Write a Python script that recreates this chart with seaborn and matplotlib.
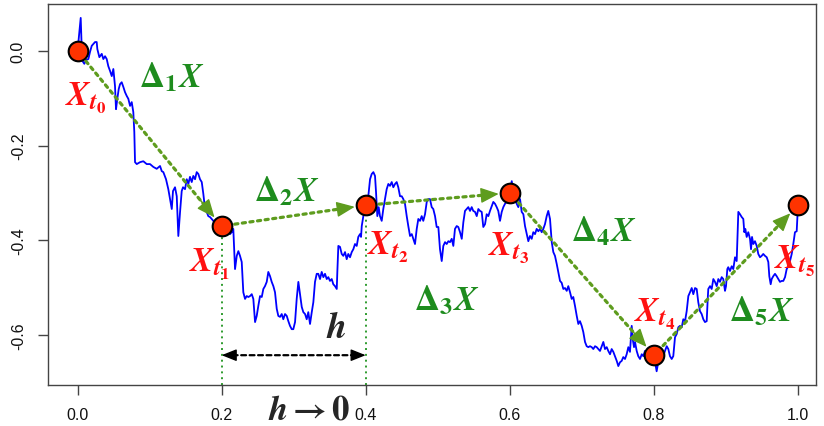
import numpy as np
import pandas as pd
import matplotlib
matplotlib.use("Agg")
import matplotlib.pyplot as plt
import seaborn as sns

# ---- data ----
# blue sample path: time and value
path_t = [0.0, 0.0044, 0.0056, 0.0076, 0.0094, 0.0118, 0.0150, 0.0173, 0.0197, 0.0219,
          0.0243, 0.0266, 0.0275, 0.0303, 0.0336, 0.0358, 0.0382, 0.0405, 0.0427, 0.0451,
          0.0475, 0.0497, 0.0520, 0.0534, 0.0552, 0.0572, 0.0590, 0.0613, 0.0636, 0.0659,
          0.0683, 0.0705, 0.0729, 0.0752, 0.0774, 0.0788, 0.0798, 0.0822, 0.0867, 0.0913,
          0.0960, 0.1006, 0.1052, 0.1099, 0.1145, 0.1169, 0.1191, 0.1228, 0.1260, 0.1284,
          0.1308, 0.1325, 0.1353, 0.1377, 0.1399, 0.1423, 0.1446, 0.1464, 0.1492, 0.1516,
          0.1538, 0.1561, 0.1585, 0.1607, 0.1631, 0.1654, 0.1677, 0.1700, 0.1724, 0.1746,
          0.1770, 0.1793, 0.1815, 0.1839, 0.1863, 0.1885, 0.1932, 0.2000, 0.2093, 0.2117,
          0.2140, 0.2162, 0.2186, 0.2210, 0.2232, 0.2255, 0.2279, 0.2301, 0.2325, 0.2348,
          0.2371, 0.2394, 0.2418, 0.2440, 0.2464, 0.2487, 0.2509, 0.2533, 0.2557, 0.2579,
          0.2602, 0.2626, 0.2648, 0.2672, 0.2695, 0.2718, 0.2741, 0.2765, 0.2787, 0.2811,
          0.2834, 0.2856, 0.2880, 0.2904, 0.2926, 0.2949, 0.2973, 0.2995, 0.3019, 0.3042,
          0.3065, 0.3088, 0.3112, 0.3134, 0.3158, 0.3181, 0.3203, 0.3227, 0.3251, 0.3273,
          0.3296, 0.3320, 0.3342, 0.3366, 0.3389, 0.3412, 0.3435, 0.3459, 0.3481, 0.3504,
          0.3528, 0.3550, 0.3574, 0.3598, 0.3606, 0.3620, 0.3643, 0.3667, 0.3689, 0.3713,
          0.3736, 0.3758, 0.3782, 0.3806, 0.3828, 0.3851, 0.3875, 0.3897, 0.3921, 0.3935,
          0.3945, 0.3967, 0.3990, 0.4000, 0.4036, 0.4060, 0.4083, 0.4106, 0.4129, 0.4143,
          0.4161, 0.4180, 0.4198, 0.4222, 0.4244, 0.4268, 0.4291, 0.4314, 0.4337, 0.4361,
          0.4383, 0.4407, 0.4430, 0.4452, 0.4476, 0.4500, 0.4522, 0.4545, 0.4569, 0.4591,
          0.4615, 0.4639, 0.4661, 0.4684, 0.4708, 0.4730, 0.4754, 0.4777, 0.4799, 0.4823,
          0.4847, 0.4869, 0.4892, 0.4916, 0.4938, 0.4962, 0.4985, 0.5008, 0.5031, 0.5055,
          0.5077, 0.5101, 0.5124, 0.5147, 0.5170, 0.5194, 0.5216, 0.5239, 0.5263, 0.5285,
          0.5309, 0.5333, 0.5355, 0.5378, 0.5402, 0.5424, 0.5448, 0.5471, 0.5493, 0.5517,
          0.5541, 0.5563, 0.5586, 0.5610, 0.5632, 0.5656, 0.5679, 0.5702, 0.5725, 0.5749,
          0.5771, 0.5795, 0.5818, 0.5840, 0.5864, 0.5888, 0.5910, 0.5933, 0.5957, 0.5979,
          0.6000, 0.6027, 0.6049, 0.6072, 0.6096, 0.6118, 0.6142, 0.6165, 0.6188, 0.6211,
          0.6235, 0.6257, 0.6280, 0.6304, 0.6326, 0.6350, 0.6373, 0.6396, 0.6419, 0.6443,
          0.6465, 0.6488, 0.6512, 0.6534, 0.6558, 0.6582, 0.6604, 0.6627, 0.6651, 0.6673,
          0.6697, 0.6720, 0.6743, 0.6766, 0.6790, 0.6812, 0.6836, 0.6859, 0.6881, 0.6905,
          0.6929, 0.6951, 0.6974, 0.6998, 0.7020, 0.7044, 0.7067, 0.7090, 0.7113, 0.7137,
          0.7159, 0.7183, 0.7206, 0.7228, 0.7252, 0.7276, 0.7298, 0.7321, 0.7345, 0.7367,
          0.7391, 0.7414, 0.7437, 0.7460, 0.7484, 0.7506, 0.7529, 0.7553, 0.7575, 0.7599,
          0.7622, 0.7645, 0.7668, 0.7692, 0.7706, 0.7724, 0.7738, 0.7761, 0.7783, 0.7807,
          0.7831, 0.7853, 0.7876, 0.7900, 0.7922, 0.7946, 0.7969, 0.8000, 0.8038, 0.8060,
          0.8084, 0.8108, 0.8130, 0.8154, 0.8178, 0.8200, 0.8223, 0.8247, 0.8269, 0.8293,
          0.8317, 0.8339, 0.8362, 0.8386, 0.8408, 0.8432, 0.8455, 0.8478, 0.8501, 0.8525,
          0.8547, 0.8571, 0.8594, 0.8616, 0.8640, 0.8663, 0.8686, 0.8709, 0.8733, 0.8747,
          0.8755, 0.8779, 0.8802, 0.8825, 0.8848, 0.8872, 0.8894, 0.8917, 0.8941, 0.8963,
          0.8987, 0.9001, 0.9019, 0.9032, 0.9056, 0.9080, 0.9102, 0.9126, 0.9149, 0.9172,
          0.9195, 0.9219, 0.9241, 0.9255, 0.9269, 0.9288, 0.9310, 0.9334, 0.9348, 0.9362,
          0.9380, 0.9403, 0.9427, 0.9449, 0.9473, 0.9496, 0.9518, 0.9542, 0.9566, 0.9588,
          0.9602, 0.9621, 0.9635, 0.9657, 0.9681, 0.9704, 0.9727, 0.9750, 0.9774, 0.9796,
          0.9820, 0.9843, 0.9865, 0.9889, 0.9913, 0.9935, 0.9958, 0.9982, 0.9990, 1.0]
path_x = [0.000, 0.070, 0.015, -0.023, -0.027, -0.019, -0.017, -0.002, 0.011, 0.015,
          0.019, 0.019, 0.004, -0.013, -0.006, -0.017, -0.011, -0.017, -0.032, -0.042,
          -0.053, -0.038, -0.074, -0.123, -0.101, -0.080, -0.070, -0.066, -0.076, -0.087,
          -0.095, -0.101, -0.116, -0.108, -0.129, -0.171, -0.235, -0.239, -0.235, -0.233,
          -0.239, -0.239, -0.245, -0.249, -0.243, -0.254, -0.256, -0.271, -0.292, -0.313,
          -0.334, -0.296, -0.288, -0.307, -0.391, -0.340, -0.296, -0.288, -0.292, -0.271,
          -0.281, -0.266, -0.277, -0.264, -0.271, -0.256, -0.260, -0.271, -0.277, -0.302,
          -0.334, -0.340, -0.349, -0.351, -0.355, -0.359, -0.370, -0.370, -0.372, -0.387,
          -0.383, -0.376, -0.461, -0.433, -0.423, -0.433, -0.446, -0.510, -0.524, -0.518,
          -0.520, -0.518, -0.514, -0.524, -0.573, -0.560, -0.539, -0.518, -0.520, -0.503,
          -0.497, -0.488, -0.467, -0.476, -0.488, -0.497, -0.510, -0.545, -0.560, -0.562,
          -0.556, -0.567, -0.556, -0.560, -0.571, -0.581, -0.588, -0.588, -0.573, -0.524,
          -0.488, -0.514, -0.541, -0.552, -0.556, -0.567, -0.552, -0.577, -0.552, -0.531,
          -0.488, -0.471, -0.471, -0.482, -0.467, -0.478, -0.471, -0.482, -0.478, -0.486,
          -0.482, -0.493, -0.497, -0.503, -0.467, -0.412, -0.414, -0.429, -0.433, -0.425,
          -0.440, -0.429, -0.436, -0.425, -0.419, -0.408, -0.412, -0.393, -0.387, -0.393,
          -0.370, -0.349, -0.340, -0.326, -0.307, -0.271, -0.260, -0.256, -0.264, -0.298,
          -0.349, -0.330, -0.349, -0.359, -0.334, -0.313, -0.292, -0.281, -0.285, -0.277,
          -0.288, -0.281, -0.277, -0.288, -0.307, -0.307, -0.313, -0.323, -0.349, -0.370,
          -0.391, -0.387, -0.397, -0.408, -0.376, -0.355, -0.359, -0.349, -0.359, -0.345,
          -0.319, -0.313, -0.313, -0.330, -0.334, -0.349, -0.372, -0.372, -0.419, -0.444,
          -0.412, -0.404, -0.408, -0.402, -0.404, -0.397, -0.412, -0.376, -0.370, -0.372,
          -0.383, -0.397, -0.362, -0.338, -0.334, -0.330, -0.338, -0.330, -0.338, -0.340,
          -0.349, -0.334, -0.338, -0.340, -0.372, -0.366, -0.345, -0.349, -0.338, -0.328,
          -0.319, -0.323, -0.330, -0.338, -0.359, -0.340, -0.330, -0.323, -0.319, -0.313,
          -0.300, -0.275, -0.298, -0.313, -0.323, -0.330, -0.313, -0.340, -0.345, -0.370,
          -0.387, -0.402, -0.391, -0.397, -0.383, -0.387, -0.376, -0.381, -0.376, -0.383,
          -0.376, -0.366, -0.349, -0.338, -0.355, -0.404, -0.425, -0.433, -0.450, -0.467,
          -0.486, -0.490, -0.503, -0.501, -0.507, -0.497, -0.510, -0.524, -0.520, -0.539,
          -0.560, -0.577, -0.571, -0.581, -0.594, -0.615, -0.624, -0.626, -0.624, -0.626,
          -0.630, -0.624, -0.626, -0.630, -0.634, -0.624, -0.615, -0.630, -0.626, -0.634,
          -0.641, -0.630, -0.636, -0.645, -0.655, -0.666, -0.658, -0.655, -0.647, -0.651,
          -0.641, -0.626, -0.636, -0.581, -0.609, -0.626, -0.615, -0.634, -0.645, -0.651,
          -0.641, -0.645, -0.634, -0.641, -0.645, -0.636, -0.645, -0.643, -0.677, -0.658,
          -0.647, -0.636, -0.645, -0.634, -0.624, -0.630, -0.645, -0.651, -0.645, -0.605,
          -0.598, -0.584, -0.581, -0.584, -0.567, -0.571, -0.550, -0.518, -0.510, -0.501,
          -0.514, -0.501, -0.503, -0.531, -0.550, -0.556, -0.567, -0.573, -0.571, -0.524,
          -0.503, -0.497, -0.503, -0.482, -0.488, -0.497, -0.482, -0.488, -0.478, -0.482,
          -0.507, -0.497, -0.461, -0.457, -0.465, -0.455, -0.461, -0.436, -0.444, -0.340,
          -0.345, -0.351, -0.355, -0.383, -0.376, -0.393, -0.383, -0.397, -0.419, -0.393,
          -0.408, -0.402, -0.412, -0.429, -0.436, -0.433, -0.429, -0.433, -0.436, -0.446,
          -0.476, -0.493, -0.482, -0.476, -0.471, -0.476, -0.482, -0.488, -0.486, -0.486,
          -0.478, -0.461, -0.455, -0.444, -0.429, -0.408, -0.383, -0.381, -0.355, -0.326]

# sampled points X_{t_i}
obs_t = [0.0, 0.2, 0.4, 0.6, 0.8, 1.0]
obs_x = [0.0, -0.370, -0.326, -0.300, -0.643, -0.326]

# label anchor positions (data units)
xlab_pos = [(0.012, -0.096), (0.183, -0.449), (0.431, -0.414),
            (0.598, -0.414), (0.801, -0.554), (0.996, -0.442)]
dlab_pos = [(0.131, -0.053), (0.290, -0.294), (0.513, -0.526),
            (0.731, -0.378), (0.950, -0.548)]

df = pd.DataFrame({"t": path_t, "x": path_x})
pts = pd.DataFrame({"t": obs_t, "x": obs_x})

sns.set_style("ticks")
plt.rcParams["font.family"] = ["Liberation Sans", "DejaVu Sans"]
plt.rcParams["mathtext.fontset"] = "stix"

fig = plt.figure(figsize=(8.24, 4.27), dpi=100)
ax = fig.add_axes([48 / 824, 1 - 386 / 427, 768 / 824, 381 / 427])

sns.lineplot(data=df, x="t", y="x", sort=False, estimator=None,
             color="#0000FF", lw=1.3, ax=ax, zorder=2)

arrow_col = "#5E9C1E"
green_lab = "#1E8C1E"
red_lab = "#FF1111"

# increments as dotted arrows: dotted shaft + solid head
for i in range(len(obs_t) - 1):
    a = (obs_t[i], obs_x[i])
    b = (obs_t[i + 1], obs_x[i + 1])
    ax.annotate("", xy=b, xytext=a,
                arrowprops=dict(arrowstyle="-", color=arrow_col, lw=2.3,
                                linestyle=(0, (1.0, 1.4)), shrinkA=4, shrinkB=16),
                zorder=3)
    near = (a[0] + 0.85 * (b[0] - a[0]), a[1] + 0.85 * (b[1] - a[1]))
    ax.annotate("", xy=b, xytext=near,
                arrowprops=dict(arrowstyle="-|>,head_length=0.75,head_width=0.32",
                                color=arrow_col, lw=1.0, shrinkA=0, shrinkB=8,
                                mutation_scale=15),
                zorder=3)

ylo, yhi = -0.706, 0.0994
# dotted drop lines at t1 and t2
for k in (1, 2):
    ax.plot([obs_t[k], obs_t[k]], [ylo, obs_x[k]], color="#2E9B2E",
            lw=1.4, linestyle=(0, (1, 2)), zorder=1)

# h double arrow
ax.annotate("", xy=(obs_t[2], obs_x[4]), xytext=(obs_t[1], obs_x[4]),
            arrowprops=dict(arrowstyle="-", color="black", lw=1.6,
                            linestyle=(0, (2.2, 1.6)), shrinkA=8, shrinkB=8))
for end, other in ((obs_t[1], obs_t[2]), (obs_t[2], obs_t[1])):
    ax.annotate("", xy=(end, obs_x[4]), xytext=(end + 0.1 * (other - end), obs_x[4]),
                arrowprops=dict(arrowstyle="-|>,head_length=0.7,head_width=0.28",
                                color="black", lw=1.0, shrinkA=0, shrinkB=0,
                                mutation_scale=13))
ax.text(0.359, -0.584, r"$\mathbfit{h}$", fontsize=26, ha="center", va="center")
ax.text(0.322, -0.757, r"$\mathbfit{h}\mathbf{\rightarrow}\mathbf{0}$", fontsize=25,
        ha="center", va="center", clip_on=False)

sns.scatterplot(data=pts, x="t", y="x", s=200, color="#FF3300",
                edgecolor="black", linewidth=1.5, ax=ax, zorder=5)

for i, (px, py) in enumerate(xlab_pos):
    ax.text(px, py, r"$\mathbfit{X}_{\mathbfit{t}_{\mathbf{%d}}}$" % i, color=red_lab,
            fontsize=25, ha="center", va="center", zorder=6)
for i, (px, py) in enumerate(dlab_pos):
    ax.text(px, py, r"$\mathbf{\Delta}_{\mathbf{%d}}\mathbfit{X}$" % (i + 1), color=green_lab,
            fontsize=25, ha="center", va="center", zorder=6)

ax.set_xlim(-0.041, 1.025)
ax.set_ylim(ylo, yhi)
ax.set_xticks([0.0, 0.2, 0.4, 0.6, 0.8, 1.0])
ax.set_xticklabels(["0.0", "0.2", "0.4", "0.6", "0.8", "1.0"])
ax.set_yticks([0.0, -0.2, -0.4, -0.6])
ax.set_yticklabels(["0.0", "-0.2", "-0.4", "-0.6"], rotation=90, va="center")
ax.set_xlabel("")
ax.set_ylabel("")
ax.tick_params(length=7, width=1, color="#444444", labelcolor="#111111",
               labelsize=11.5, pad=9)
for s in ax.spines.values():
    s.set_visible(True)
    s.set_color("#444444")
    s.set_linewidth(1)

fig.savefig("out.png", dpi=100)
